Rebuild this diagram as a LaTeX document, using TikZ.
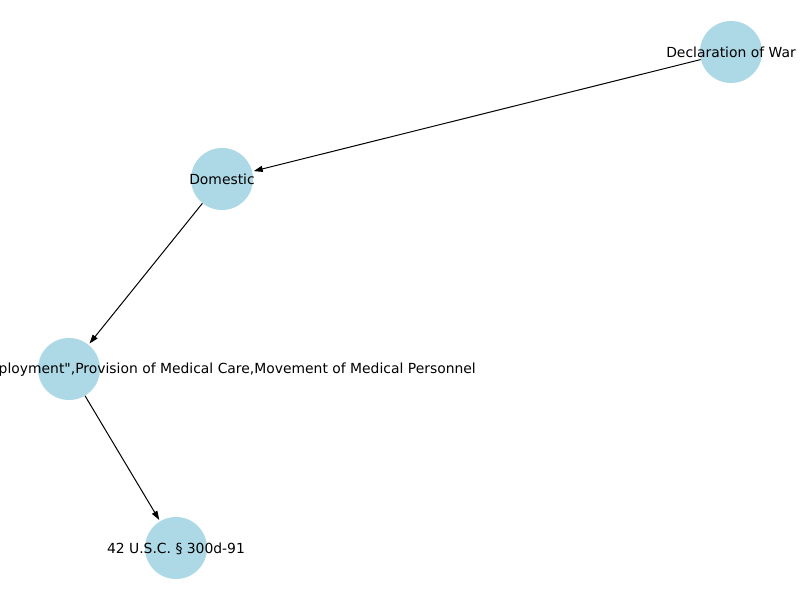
\documentclass[tikz,border=0pt]{standalone}
\usepackage{fontspec}
\setmainfont{DejaVu Sans}[Ligatures=TeXOff]
\usetikzlibrary{arrows.meta}
\begin{document}
\begin{tikzpicture}[x=0.01in,y=-0.01in,
  nd/.style={circle,fill=nodeblue,draw=none,minimum size=0.62in,inner sep=0pt},
  lbl/.style={font=\fontsize{10bp}{12bp}\selectfont,text=black,inner sep=0pt},
  edge/.style={draw=black,line width=0.72bp,-{Triangle[length=0.09in,width=0.06in]},shorten >=1bp}]
\definecolor{nodeblue}{HTML}{ADD8E6}
\useasboundingbox (0,0) rectangle (800,600);
\clip (0,0) rectangle (800,600);
\node[nd] (war) at (731,52) {};
\node[nd] (dom) at (222,179) {};
\node[nd] (med) at (69,369) {};
\node[nd] (usc) at (176,548) {};
\draw[edge] (war) -- (dom);
\draw[edge] (dom) -- (med);
\draw[edge] (med) -- (usc);
\node[lbl] (lwar) at (731,52.5) {Declaration of War};
\node[lbl] (ldom) at (222,179.5) {Domestic};
\node[lbl,anchor=east] (lmed) at (476,369.5) {ployment",Provision of Medical Care,Movement of Medical Personnel};
\node[lbl] (lusc) at (176,548.5) {42 U.S.C. § 300d-91};
\end{tikzpicture}
\end{document}
